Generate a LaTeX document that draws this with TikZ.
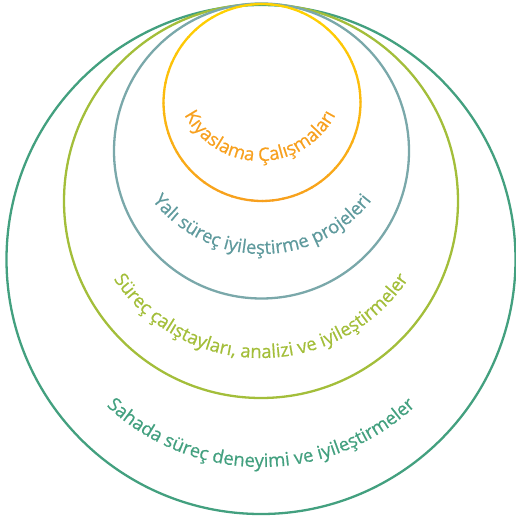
\documentclass[tikz,border=0pt]{standalone}
\usepackage{fontspec}
\setmainfont{Open Sans}[BoldFont={Open Sans},BoldFeatures={FakeBold=0.6}]
\usetikzlibrary{decorations.text}
\definecolor{sahaGreen}{HTML}{43A07F}
\definecolor{calGreen}{HTML}{A3BE3A}
\definecolor{projTeal}{HTML}{7AA8AA}
\definecolor{projText}{HTML}{5F9A9D}
\definecolor{kiyYellow}{HTML}{FFD200}
\definecolor{kiyOrange}{HTML}{F7A01E}
\begin{document}
\begin{tikzpicture}[x=1pt,y=1pt,
    ring/.style={line width=2.3pt},
    curved/.style 2 args={decorate,decoration={text along path,text align=center,
      text color=#1,text={|\fontsize{18.5}{22}\selectfont\bfseries|#2}}}]
  \useasboundingbox (0,0) rectangle (515,-521);
  % centres of the rings
  \coordinate (saha) at (261,-259.5);
  \coordinate (calistay) at (261,-201);
  \coordinate (proje) at (261.5,-151);
  \coordinate (kiyas) at (262,-102.5);
  \draw[ring,sahaGreen] (saha) circle[radius=254.5];
  \draw[ring,calGreen] (calistay) circle[radius=197];
  \draw[ring,projTeal] (proje) circle[radius=147.5];
  % yellow at the top, orange at the bottom
  \foreach \a [evaluate=\a as \p using {int(50-50*sin(\a+3))}] in {0,6,...,354}
    \draw[ring,kiyOrange!\p!kiyYellow] ([shift={(\a:98.5)}]kiyas) arc[start angle=\a,end angle=\a+6.6,radius=98.5];
  % labels bent along the rings
  \path[curved={kiyOrange}{Kıyaslama Çalışmaları}] (175,-76) arc[start angle=180,end angle=360,radius=85];
  \path[curved={projText}{Yalı süreç iyileştirme projeleri}] (123,-115) arc[start angle=180,end angle=360,radius=139];
  \path[curved={calGreen}{Süreç çalıştayları, analizi ve iyileştirmeler}] (84,-181) arc[start angle=180,end angle=360,radius=177];
  \path[curved={sahaGreen}{Sahada süreç deneyimi ve iyileştirmeler}] (35,-241) arc[start angle=180,end angle=360,radius=226];
\end{tikzpicture}
\end{document}
